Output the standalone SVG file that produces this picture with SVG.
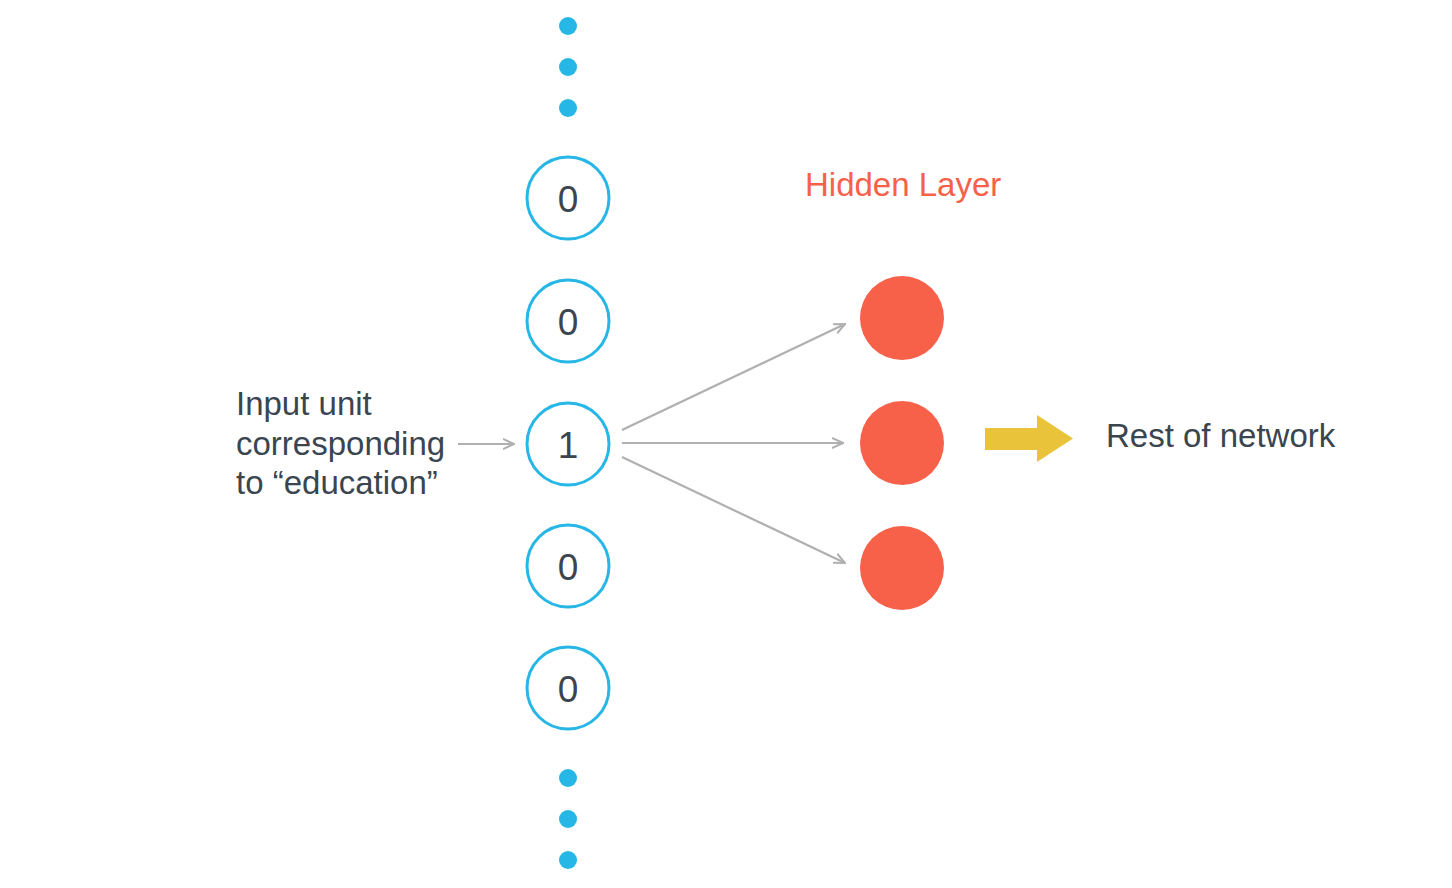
<svg xmlns="http://www.w3.org/2000/svg" width="1452" height="888" viewBox="0 0 1452 888">
<style>
.in{fill:#fff;stroke:#27b7e6;stroke-width:3}
.dot{fill:#27b7e6}
.hid{fill:#f76149}
.num{font-family:"Liberation Sans",Arial,sans-serif;font-size:37px;fill:#3a4550;text-anchor:middle}
.lbl{font-family:"Liberation Sans",Arial,sans-serif;font-size:33px;fill:#3a4550}
.conn{stroke:#b0b0b0;stroke-width:2.2;fill:none;marker-end:url(#ah)}
</style>
<defs>
<marker id="ah" viewBox="0 0 12 12" refX="11" refY="6" markerWidth="12" markerHeight="12" markerUnits="userSpaceOnUse" orient="auto">
<path d="M0,1 L11,6 L0,11" fill="none" stroke="#b0b0b0" stroke-width="2"/>
</marker>
</defs>
<rect width="1452" height="888" fill="#fff"/>
<g id="dots-top">
<circle class="dot" cx="568" cy="26" r="9"/>
<circle class="dot" cx="568" cy="67" r="9"/>
<circle class="dot" cx="568" cy="108" r="9"/>
</g>
<g id="dots-bottom">
<circle class="dot" cx="568" cy="778" r="9"/>
<circle class="dot" cx="568" cy="819" r="9"/>
<circle class="dot" cx="568" cy="860" r="9"/>
</g>
<g id="in1"><circle class="in" cx="568" cy="198" r="41"/><text class="num" x="568" y="212">0</text></g>
<g id="in2"><circle class="in" cx="568" cy="321" r="41"/><text class="num" x="568" y="335">0</text></g>
<g id="in3"><circle class="in" cx="568" cy="444" r="41"/><text class="num" x="568" y="458">1</text></g>
<g id="in4"><circle class="in" cx="568" cy="566" r="41"/><text class="num" x="568" y="580">0</text></g>
<g id="in5"><circle class="in" cx="568" cy="688" r="41"/><text class="num" x="568" y="702">0</text></g>
<g id="h1"><circle class="hid" cx="902" cy="318" r="42"/></g>
<g id="h2"><circle class="hid" cx="902" cy="443" r="42"/></g>
<g id="h3"><circle class="hid" cx="902" cy="568" r="42"/></g>
<g id="hidden-label"><text class="lbl" x="805" y="196" style="fill:#f76149">Hidden Layer</text></g>
<g id="input-label">
<text class="lbl" x="236" y="415">Input unit</text>
<text class="lbl" x="236" y="455">corresponding</text>
<text class="lbl" x="236" y="494">to “education”</text>
</g>
<g id="rest"><text class="lbl" x="1106" y="447">Rest of network</text></g>
<g id="yellow-arrow"><path d="M985,428 L1037,428 L1037,415 L1073,438.5 L1037,462 L1037,450 L985,450 Z" fill="#e9c43a"/></g>
<g id="connectors">
<line class="conn" x1="458" y1="444" x2="514" y2="444"/>
<line class="conn" x1="622" y1="430" x2="845" y2="324"/>
<line class="conn" x1="622" y1="443" x2="843" y2="443"/>
<line class="conn" x1="622" y1="457" x2="845" y2="563"/>
</g>
</svg>
